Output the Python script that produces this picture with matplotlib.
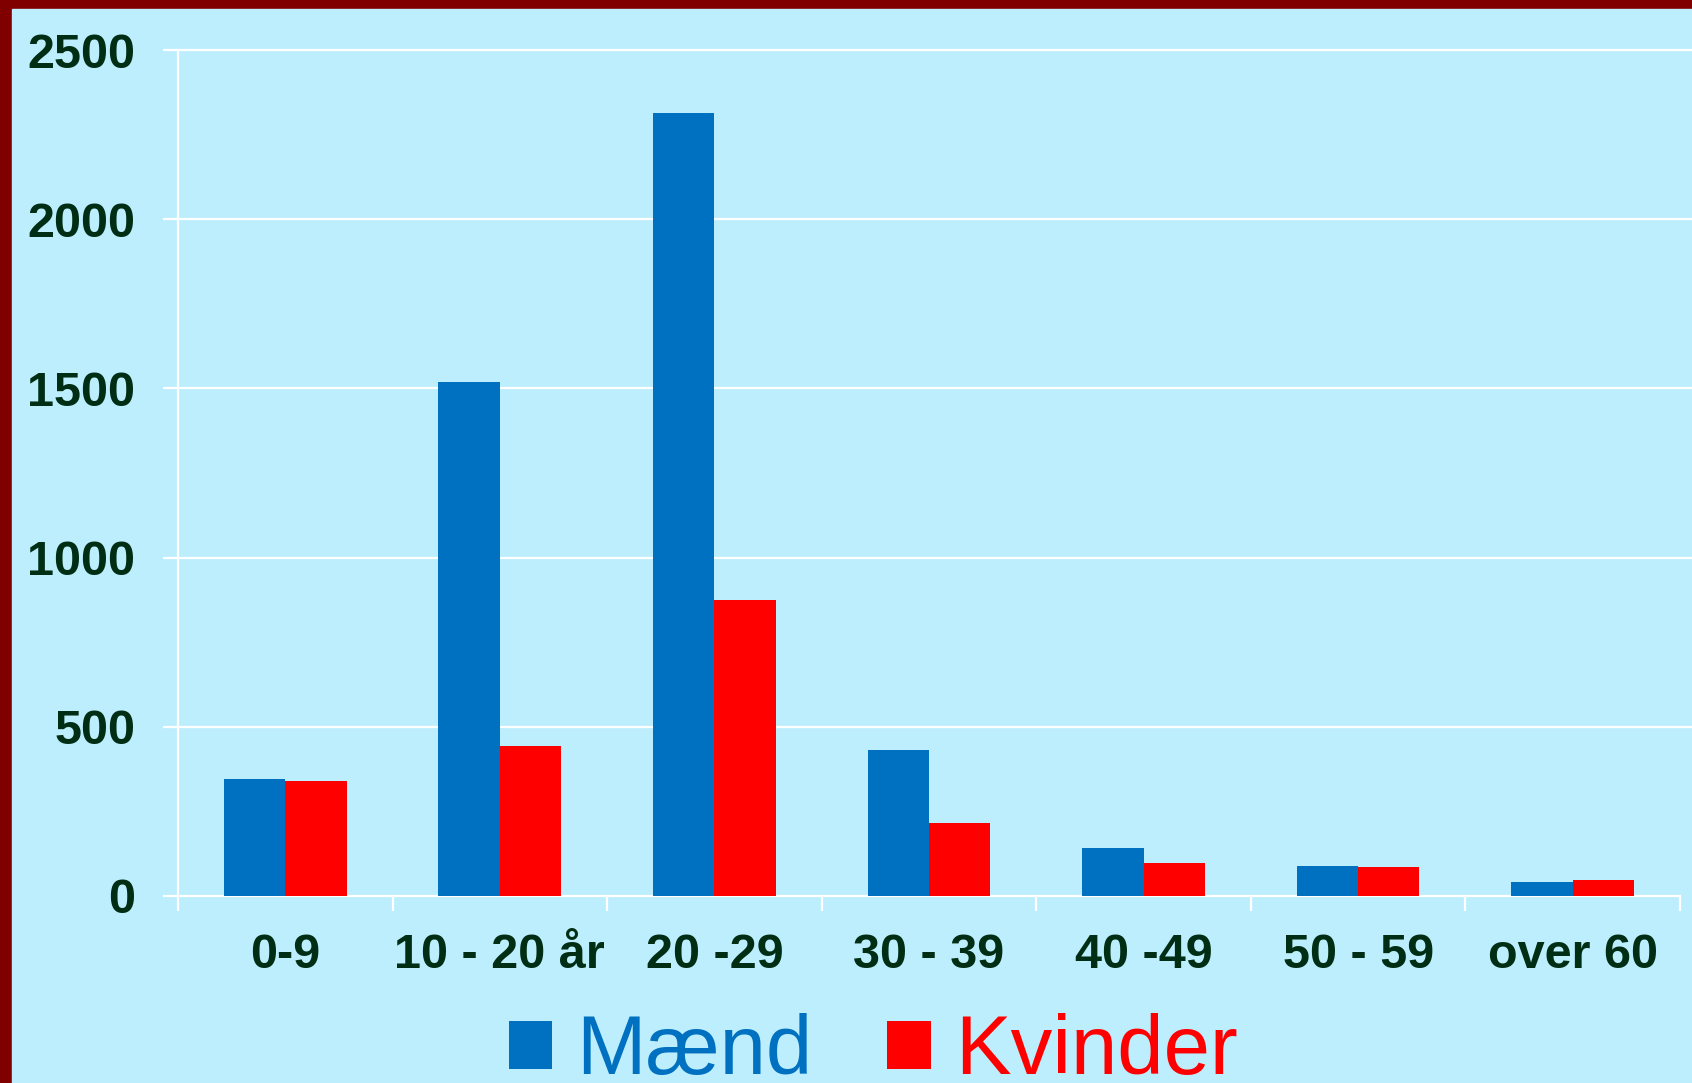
import matplotlib.pyplot as plt
import numpy as np
from matplotlib.patches import Rectangle

# aldersgrupper og antal
categories = ['0-9', '10 - 20 år', '20 -29', '30 - 39', '40 -49', '50 - 59', 'over 60']
maend = [345, 1520, 2315, 430, 143, 89, 41]
kvinder = [341, 443, 874, 217, 96, 86, 48]

blue = '#0070C0'
red = '#FF0000'
bg = '#BDEEFD'
txt = '#002E14'


def main():
    plt.rcParams['font.family'] = ['Liberation Sans', 'DejaVu Sans']

    fig = plt.figure(figsize=(16.92, 10.83), dpi=100)
    fig.patch.set_facecolor('#800000')
    # lys blå baggrund med mørkerød kant foroven og til venstre
    fig.add_artist(Rectangle((12 / 1692, 0), 1, 1 - 9 / 1083,
                             transform=fig.transFigure, color=bg, zorder=0))

    ax = fig.add_axes([0.1052, 0.1727, 0.8877, 0.7811])
    ax.set_facecolor('none')

    x = np.arange(len(categories))
    w = 0.286
    b1 = ax.bar(x - w / 2, maend, w, color=blue, zorder=3, label='Mænd')
    b2 = ax.bar(x + w / 2, kvinder, w, color=red, zorder=3, label='Kvinder')

    ax.set_xlim(-0.5, len(categories) - 0.5)
    ax.set_ylim(0, 2500)
    ax.set_yticks(np.arange(0, 2501, 500))
    for yv in np.arange(500, 2501, 500):
        ax.axhline(yv, xmin=0, xmax=1.01, color='white', lw=1.6,
                   clip_on=False, zorder=1)

    ax.set_xticks(x)
    ax.set_xticklabels(categories)
    ax.set_xticks(np.arange(-0.5, len(categories)), minor=True)

    for s in ['top', 'right']:
        ax.spines[s].set_visible(False)
    for s in ['left', 'bottom']:
        ax.spines[s].set_color('white')
        ax.spines[s].set_linewidth(1.6)

    ax.tick_params(axis='y', colors='white', length=10.8, width=1.6, pad=20,
                   labelcolor=txt, labelsize=35)
    ax.tick_params(axis='x', which='major', length=0, pad=27,
                   labelcolor=txt, labelsize=35)
    ax.tick_params(axis='x', which='minor', colors='white', length=10.8, width=1.6)
    for lab in ax.get_xticklabels() + ax.get_yticklabels():
        lab.set_fontweight('bold')

    leg = fig.legend([b1, b2], ['Mænd', 'Kvinder'], loc='lower center',
                     bbox_to_anchor=(0.516, -0.077), ncol=2, frameon=False,
                     fontsize=60, handlelength=0.52, handleheight=0.52,
                     handletextpad=0.29, columnspacing=0.9)
    for t, c in zip(leg.get_texts(), [blue, red]):
        t.set_color(c)

    fig.savefig('out.png', dpi=100, facecolor=fig.get_facecolor())


if __name__ == "__main__":
    main()
